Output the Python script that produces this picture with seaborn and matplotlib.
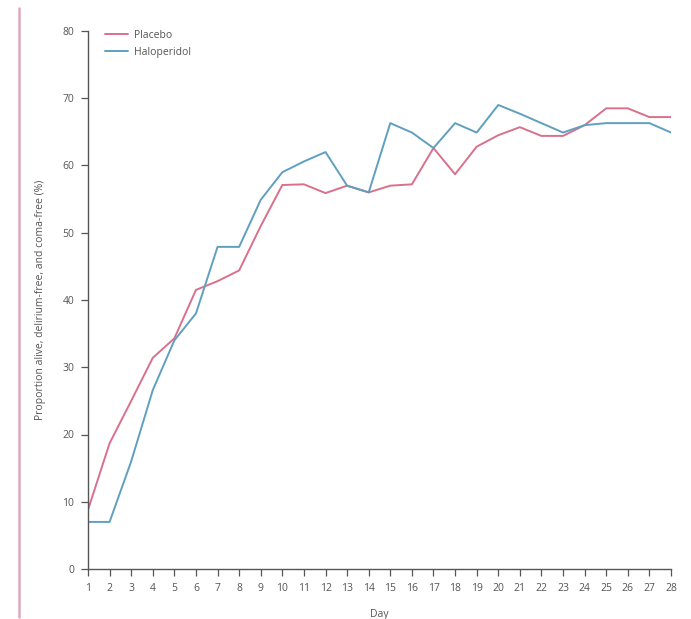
import numpy as np
import pandas as pd
import matplotlib
matplotlib.use("Agg")
import matplotlib.pyplot as plt
import seaborn as sns

days = list(range(1, 29))
placebo = [8.8, 18.7, 25.0, 31.4, 34.3, 41.5, 42.8, 44.4, 51.0, 57.1,
           57.2, 55.9, 57.0, 56.0, 57.0, 57.2, 62.6, 58.7, 62.8, 64.5,
           65.7, 64.4, 64.4, 66.0, 68.5, 68.5, 67.2, 67.2]
haloperidol = [7.0, 7.0, 16.0, 26.6, 34.0, 38.0, 47.9, 47.9, 54.9, 59.0,
               60.6, 62.0, 57.0, 56.0, 66.3, 64.9, 62.6, 66.3, 64.9, 69.0,
               67.7, 66.3, 64.9, 66.0, 66.3, 66.3, 66.3, 64.9]
series_names = ["Placebo", "Haloperidol"]
y_ticks = list(range(0, 81, 10))

df = pd.DataFrame({
    "Day": days * 2,
    "Value": placebo + haloperidol,
    "Group": [series_names[0]] * len(days) + [series_names[1]] * len(days),
})

sns.set_style("white")
plt.rcParams['font.family'] = ['Open Sans', 'DejaVu Sans']

fig = plt.figure(figsize=(6.91, 6.19), dpi=100)
ax = fig.add_axes([88/691, 1-569/619, (671-88)/691, (569-31)/619])

palette = {"Placebo": "#d9708c", "Haloperidol": "#5f9fc0"}
sns.lineplot(data=df, x="Day", y="Value", hue="Group", palette=palette,
             linewidth=1.4, ax=ax, legend=True)

ax.set_xlim(1, 28)
ax.set_ylim(0, 80)
ax.set_xticks(days)
ax.set_yticks(y_ticks)
ax.tick_params(axis='both', direction='out', length=5, width=0.9,
               bottom=True, left=True,
               colors='#555555', labelsize=7.5, labelcolor='#555555', pad=5)
for s in ['top', 'right']:
    ax.spines[s].set_visible(False)
for s in ['left', 'bottom']:
    ax.spines[s].set_color('#555555')
    ax.spines[s].set_linewidth(1.0)

ax.set_xlabel("Day", fontsize=7.5, color='#555555', labelpad=11)
ax.set_ylabel("Proportion alive, delirium-free, and coma-free (%)", fontsize=7.5,
              color='#555555', labelpad=12)

leg = ax.legend(loc='upper left', bbox_to_anchor=(0.022, 1.01), frameon=False,
                fontsize=7.5, handlelength=2.2, handletextpad=0.6,
                labelspacing=0.6, borderaxespad=0)
for t in leg.get_texts():
    t.set_color('#555555')

# decorative pink vertical rule at the left edge
fig.add_artist(plt.Line2D([19/691, 19/691], [1-8/619, 1-617/619],
                          transform=fig.transFigure, color='#dcaabb', linewidth=1.8))

fig.savefig("out.png", dpi=100)
